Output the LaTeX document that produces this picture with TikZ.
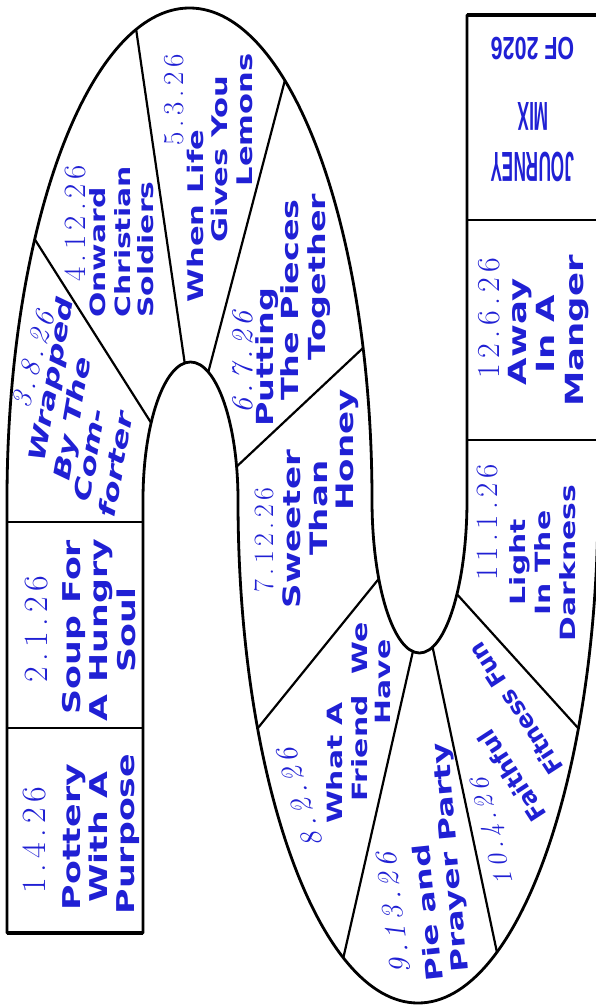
\documentclass[tikz,border=0pt]{standalone}
\usepackage{fontspec}
\usepackage{graphicx}
\usepackage{tikz}
\newfontfamily\ttlfont{DejaVu Sans}[FakeStretch=1.42]
\newfontfamily\ttlfontn{DejaVu Sans}
\newfontfamily\datefont{Latin Modern Roman}[LetterSpace=16]
\newfontfamily\jrnyfont{Liberation Sans}
\definecolor{ink}{RGB}{32,32,212}

\begin{document}
\begin{tikzpicture}[
    x=1pt, y=1pt,
    line join=round,
    rim/.style={line width=2.8pt},
    sep/.style={line width=2.2pt},
    thickrule/.style={line width=4.5pt},
    ttl/.style={text=ink, anchor=base, inner sep=0pt, font=\ttlfont\bfseries\fontsize{#1}{#1}\selectfont},
    ttl/.default=24,
    ttli/.style={text=ink, anchor=base, inner sep=0pt, font=\ttlfont\bfseries\itshape\fontsize{#1}{#1}\selectfont},
    ttln/.style={text=ink, anchor=base, inner sep=0pt, font=\ttlfontn\bfseries\fontsize{#1}{#1}\selectfont},
    dt/.style={text=ink, anchor=base, inner sep=0pt, font=\datefont\fontsize{#1}{#1}\selectfont},
    dti/.style={text=ink, anchor=base, inner sep=0pt, font=\datefont\itshape\fontsize{#1}{#1}\selectfont},
    jrny/.style={text=ink, anchor=base, inner sep=0pt, rotate=180, font=\jrnyfont\bfseries\fontsize{#1}{#1}\selectfont}
]
\path[fill=white] (0,0) rectangle (596,-1008);
\useasboundingbox (0,0) rectangle (596,-1008);

% centres of the two loops
\coordinate (topo) at (189.5,-500);
\coordinate (topi) at (190.5,-500);
\coordinate (boto) at (418,-500);
\coordinate (boti) at (419.5,-500);

% box rules and radial separators
\draw[sep] (7,-522) -- (143,-522);
\draw[sep] (7,-728) -- (143,-728);
\draw[sep] (467,-220) -- (598,-220);
\draw[sep] (467,-440) -- (598,-440);
\foreach \a/\b in {148/146, 107/97, 58.5/68, 18/14}
    \draw[sep] ([shift={(\a:182.5pt and 492pt)}]topo) -- ([shift={(\b:47.5pt and 138pt)}]topi);
\foreach \a/\b in {207/211, 245.5/262, 296/286, 333/322}
    \draw[sep] ([shift={(\a:180pt and 503pt)}]boto) -- ([shift={(\b:47.5pt and 153pt)}]boti);

% outline of the track
\draw[rim] (7,-933) -- (7,-500)
    arc[start angle=180, end angle=0, x radius=182.5pt, y radius=492pt]
    arc[start angle=180, end angle=360, x radius=47.5pt, y radius=153pt]
    -- (467,-15) -- (598,-15) -- (598,-500)
    arc[start angle=0, end angle=-180, x radius=180pt, y radius=503pt]
    arc[start angle=0, end angle=180, x radius=47.5pt, y radius=138pt]
    -- (143,-933) -- cycle;
\draw[thickrule] (7,-933) -- (143,-933);
\draw[thickrule] (467,-15) -- (598,-15);

% left column
\node[dt=34, rotate=90] (pottery-d) at (45,-840) {1.4.26};
\node[ttl=24.5, rotate=90] (pottery-a) at (80,-837) {Pottery};
\node[ttl=24.5, rotate=90] (pottery-b) at (107,-837) {With A};
\node[ttl=24.5, rotate=90] (pottery-c) at (134,-834) {Purpose};

\node[dt=34, rotate=90] (soup-d) at (47,-629) {2.1.26};
\node[ttl=24.5, rotate=90] (soup-a) at (80,-627) {Soup For};
\node[ttl=24.5, rotate=90] (soup-b) at (107,-630) {A Hungry};
\node[ttl=24.5, rotate=90] (soup-c) at (135,-630) {Soul};

% top loop
\node[dti=29, rotate=75] (wrapped-d) at (42,-362) {3.8.26};
\node[ttli=23, rotate=80] (wrapped-a) at (59,-381) {Wrapped};
\node[ttli=23, rotate=80] (wrapped-b) at (80,-420) {By The};
\node[ttli=23, rotate=80] (wrapped-c) at (98,-456) {Com-};
\node[ttli=23, rotate=80] (wrapped-e) at (124,-466) {forter};

\node[dt=31, rotate=90] (onward-d) at (85,-223) {4.12.26};
\node[ttl=21, rotate=90, anchor=base west] (onward-a) at (105,-318) {Onward};
\node[ttl=21, rotate=90, anchor=base west] (onward-b) at (130,-318) {Christian};
\node[ttl=21, rotate=90, anchor=base west] (onward-c) at (153,-318) {Soldiers};

\node[dt=29, rotate=90] (lemons-d) at (183,-100) {5.3.26};
\node[ttl=21.5, rotate=90] (lemons-a) at (203,-216) {When Life};
\node[ttl=21.5, rotate=90] (lemons-b) at (227,-159) {Gives You};
\node[ttl=21.5, rotate=90] (lemons-c) at (252,-120) {Lemons};

\node[dti=30, rotate=90] (pieces-d) at (252,-362) {6.7.26};
\node[ttl=23.5, rotate=90] (pieces-a) at (273,-357) {Putting};
\node[ttl=23.5, rotate=90] (pieces-b) at (298,-300) {The Pieces};
\node[ttl=23.5, rotate=90] (pieces-c) at (325,-277) {Together};

% middle and bottom loop
\node[dt=28, rotate=90] (honey-d) at (273,-540) {7.12.26};
\node[ttl=24, rotate=90] (honey-a) at (300,-529) {Sweeter};
\node[ttl=24, rotate=90] (honey-b) at (327,-508) {Than};
\node[ttl=24, rotate=90] (honey-c) at (353,-450) {Honey};

\node[dti=30, rotate=106] (friend-d) at (309,-795) {8.2.26};
\node[ttl=21, rotate=90] (friend-a) at (342,-763) {What A};
\node[ttl=21, rotate=90] (friend-b) at (367,-712) {Friend\ \ We};
\node[ttl=21, rotate=90] (friend-c) at (390,-682) {Have};

\node[dti=30, rotate=97] (pie-d) at (403,-912) {9.13.26};
\node[ttl=23, rotate=96] (pie-a) at (436,-912) {Pie and};
\node[ttl=23, rotate=95] (pie-b) at (458,-857) {Prayer Party};

\node[dti=27, rotate=104] (fitness-d) at (500,-830) {10.4.26};
\node[ttln=24, rotate=123] (fitness-a) at (519,-771) {Faithful};
\node[ttln=23.5, rotate=123] (fitness-b) at (523,-704) {Fitness Fun};

% right column
\node[dt=31, rotate=90] (light-d) at (497,-522) {11.1.26};
\node[ttl=21, rotate=90] (light-a) at (525,-562) {Light};
\node[ttl=21, rotate=90] (light-b) at (550,-563) {In The};
\node[ttl=21, rotate=90] (light-c) at (575,-563) {Darkness};

\node[dt=32, rotate=90] (manger-d) at (499,-318) {12.6.26};
\node[ttl=25, rotate=90] (manger-a) at (526,-332) {Away};
\node[ttl=25, rotate=90] (manger-b) at (554,-334) {In A};
\node[ttl=25, rotate=90] (manger-c) at (583,-331) {Manger};

\node[jrny=42] (journey-a) at (532.5,-153) {\scalebox{0.41}[1]{JOURNEY}};
\node[jrny=40.5] (journey-b) at (533.5,-103) {\scalebox{0.43}[1]{MIX}};
\node[jrny=32] (journey-c) at (532.5,-38) {\scalebox{0.67}[1]{OF 2026}};
\end{tikzpicture}
\end{document}
